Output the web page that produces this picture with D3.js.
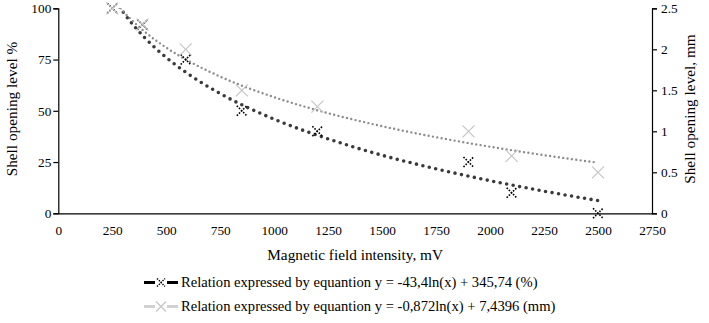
<!DOCTYPE html>
<html>
<head>
<meta charset="utf-8">
<script src="https://cdn.jsdelivr.net/npm/d3@7"></script>
<style>
  body { margin: 0; background: #fff; }
</style>
</head>
<body>
<div id="chart"></div>
<script>
// measured points (x in mV)
let fieldMv = [250, 390, 590, 850, 1200, 1900, 2100, 2500];
let openPct = [100, 92, 75, 50, 40, 25, 10, 0];
let openMm = [2.5, 2.3, 2.0, 1.5, 1.3, 1.0, 0.7, 0.5];

// trend curves
let trendX = [250, 300, 400, 500, 600, 750, 1000, 1250, 1500, 1750, 2000, 2250, 2500];
let trendPct = [106.1, 98.2, 85.7, 76.0, 68.1, 58.4, 45.9, 36.3, 28.3, 21.7, 15.9, 10.8, 6.2];
let trendMm = [2.625, 2.466, 2.215, 2.020, 1.862, 1.667, 1.416, 1.221, 1.062, 0.928, 0.812, 0.709, 0.617];

let xTicks = [0, 250, 500, 750, 1000, 1250, 1500, 1750, 2000, 2250, 2500, 2750];
let pctTicks = [0, 25, 50, 75, 100];
let mmTicks = [0, 0.5, 1, 1.5, 2, 2.5];

let legendLabels = [
    "Relation expressed by equantion y = -43,4ln(x) + 345,74 (%)",
    "Relation expressed by equantion y = -0,872ln(x) + 7,4396 (mm)"
];

// pick a Times-like font that is actually installed
function pickFont() {
    let c = document.createElement("canvas").getContext("2d");
    let probe = "Relation expressed 0123456789";
    c.font = "20px monospace";
    let base = c.measureText(probe).width;
    let candidates = ["Liberation Serif", "Tinos", "Times New Roman", "Nimbus Roman", "Noto Serif", "DejaVu Serif"];
    for (let f of candidates) {
        c.font = "20px '" + f + "', monospace";
        if (Math.abs(c.measureText(probe).width - base) > 0.5) return "'" + f + "'";
    }
    return "serif";
}
let fontFamily = pickFont() + ", serif";

let W = 709, H = 323;
let margin = {top: 8.3, right: 57, bottom: 109.7, left: 58.3},
    width = W - margin.left - margin.right,
    height = H - margin.top - margin.bottom;

let svg = d3.select("#chart")
    .append("svg")
    .attr("width", W)
    .attr("height", H)
    .style("font-family", fontFamily);

let g = svg.append("g")
    .attr("transform", "translate(" + margin.left + "," + margin.top + ")");

let x = d3.scaleLinear().domain([0, 2750]).range([0, width]);
let yL = d3.scaleLinear().domain([0, 100]).range([height, 0]);
let yR = d3.scaleLinear().domain([0, 2.5]).range([height, 0]);

g.append("clipPath").attr("id", "plot-clip")
    .append("rect").attr("x", 0).attr("y", 0).attr("width", width).attr("height", height);

// axes
let xAxis = g.append("g")
    .attr("transform", "translate(0," + height + ")")
    .call(d3.axisBottom(x).tickValues(xTicks).tickSize(0).tickPadding(12).tickFormat(d3.format("d")));

let leftAxis = g.append("g")
    .call(d3.axisLeft(yL).tickValues(pctTicks).tickSize(5).tickPadding(2).tickFormat(d3.format("d")));

let rightAxis = g.append("g")
    .attr("transform", "translate(" + width + ",0)")
    .call(d3.axisRight(yR).tickValues(mmTicks).tickSize(5).tickPadding(4).tickFormat(d => String(d)));

[xAxis, leftAxis, rightAxis].forEach(a => {
    a.attr("font-family", null).attr("font-size", null);
    a.select(".domain").attr("stroke", "#000").attr("stroke-width", 1.2);
    a.selectAll(".tick line").attr("stroke", "#000").attr("stroke-width", 1.2);
    a.selectAll("text")
        .style("font-family", fontFamily)
        .style("font-size", "13.3px")
        .attr("fill", "#000");
});

// axis titles
svg.append("text")
    .attr("transform", "translate(17,109) rotate(-90)")
    .attr("text-anchor", "middle")
    .style("font-size", "15.3px")
    .text("Shell opening level %");

svg.append("text")
    .attr("transform", "translate(695,109) rotate(-90)")
    .attr("text-anchor", "middle")
    .style("font-size", "15.3px")
    .text("Shell opening level, mm");

svg.append("text")
    .attr("x", margin.left + width / 2)
    .attr("y", 260)
    .attr("text-anchor", "middle")
    .style("font-size", "15.3px")
    .text("Magnetic field intensity, mV");

// trend lines
let pctLine = d3.line()
    .x((d, i) => x(trendX[i]))
    .y(d => yL(d))
    .curve(d3.curveMonotoneX);

let mmLine = d3.line()
    .x((d, i) => x(trendX[i]))
    .y(d => yR(d))
    .curve(d3.curveMonotoneX);

let plot = g.append("g").attr("clip-path", "url(#plot-clip)");

plot.append("path")
    .datum(trendPct)
    .attr("d", pctLine)
    .attr("fill", "none")
    .attr("stroke", "#3a3a3a")
    .attr("stroke-width", 3.6)
    .attr("stroke-linecap", "round")
    .attr("stroke-dasharray", "0 6.6");

plot.append("path")
    .datum(trendMm)
    .attr("d", mmLine)
    .attr("fill", "none")
    .attr("stroke", "#8c8c8c")
    .attr("stroke-width", 2.4)
    .attr("stroke-linecap", "round")
    .attr("stroke-dasharray", "0 4.4");

// markers
function cross(sel, s) {
    sel.append("line").attr("x1", -s).attr("y1", -s).attr("x2", s).attr("y2", s);
    sel.append("line").attr("x1", -s).attr("y1", s).attr("x2", s).attr("y2", -s);
}

let pctMarks = g.append("g")
    .selectAll("g")
    .data(openPct)
    .enter()
    .append("g")
    .attr("transform", (d, i) => "translate(" + x(fieldMv[i]) + "," + yL(d) + ")")
    .attr("stroke", "#000")
    .attr("stroke-width", 1.6)
    .attr("stroke-dasharray", "1.6 1.4");
cross(pctMarks, 5);

let mmMarks = g.append("g")
    .selectAll("g")
    .data(openMm)
    .enter()
    .append("g")
    .attr("transform", (d, i) => "translate(" + x(fieldMv[i]) + "," + yR(d) + ")")
    .attr("stroke", "#c6c6c6")
    .attr("stroke-width", 1.2);
cross(mmMarks, 6);

// legend
let legendY = [282.5, 306.5];
let legend = svg.append("g");

let item1 = legend.append("g").attr("transform", "translate(144," + legendY[0] + ")");
item1.append("line").attr("x1", 0).attr("x2", 34).attr("stroke", "#000").attr("stroke-width", 3);
item1.append("rect").attr("x", 11).attr("y", -5).attr("width", 12).attr("height", 10).attr("fill", "#fff");
let m1 = item1.append("g").attr("transform", "translate(17,0)")
    .attr("stroke", "#000").attr("stroke-width", 1.4).attr("stroke-dasharray", "1.4 1.2");
cross(m1, 4);
item1.append("text").attr("x", 37).attr("y", 4.5).style("font-size", "14.6px").text(legendLabels[0]);

let item2 = legend.append("g").attr("transform", "translate(144," + legendY[1] + ")");
item2.append("line").attr("x1", 0).attr("x2", 34).attr("stroke", "#d0d0d0").attr("stroke-width", 3);
item2.append("rect").attr("x", 11).attr("y", -6).attr("width", 12).attr("height", 12).attr("fill", "#fff");
let m2 = item2.append("g").attr("transform", "translate(17,0)")
    .attr("stroke", "#c6c6c6").attr("stroke-width", 1.2);
cross(m2, 5);
item2.append("text").attr("x", 37).attr("y", 4.5).style("font-size", "14.6px").text(legendLabels[1]);
</script>
</body>
</html>
